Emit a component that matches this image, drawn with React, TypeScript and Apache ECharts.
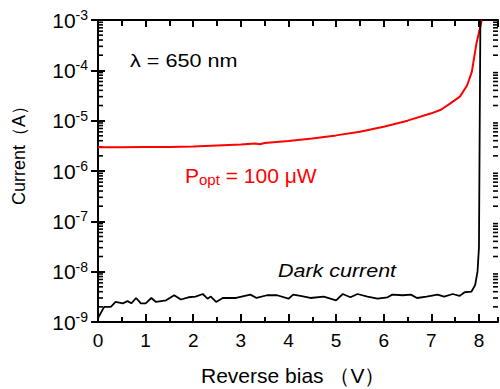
import React, { useEffect, useRef } from "react";
import * as echarts from "echarts";

const FONT = "'Liberation Sans', Arial, Helvetica, sans-serif";

// Photocurrent, P_opt = 100 µW : [reverse bias (V), current (A)]
const photoCurve: [number, number][] = [
  [0, 2.95e-6], [0.5, 2.95e-6], [1, 3.0e-6], [1.5, 3.0e-6], [2, 3.05e-6],
  [2.5, 3.2e-6], [3, 3.35e-6], [3.3, 3.5e-6], [3.4, 3.4e-6], [3.5, 3.6e-6],
  [4, 3.95e-6], [4.5, 4.4e-6], [5, 5.1e-6], [5.5, 6.0e-6], [6, 7.6e-6],
  [6.5, 1.0e-5], [7, 1.4e-5], [7.2, 1.65e-5], [7.4, 2.2e-5], [7.6, 3.0e-5],
  [7.75, 5.0e-5], [7.85, 9.3e-5], [7.95, 3.5e-4], [8.06, 1.0e-3],
];

// Dark current : [reverse bias (V), current (A)]
const darkCurve: [number, number][] = [
  [0, 1.2e-9], [0.13, 2.0e-9], [0.27, 2.0e-9], [0.37, 2.5e-9], [0.52, 2.35e-9],
  [0.62, 2.6e-9], [0.7, 2.35e-9], [0.8, 3.0e-9], [0.9, 2.35e-9], [1.0, 2.35e-9],
  [1.12, 3.0e-9], [1.22, 2.5e-9], [1.43, 2.7e-9], [1.6, 3.4e-9], [1.74, 2.8e-9],
  [1.9, 3.1e-9], [2.05, 3.2e-9], [2.2, 3.6e-9], [2.3, 2.9e-9], [2.37, 3.2e-9],
  [2.48, 2.5e-9], [2.62, 3.0e-9], [2.9, 3.0e-9], [3.2, 3.5e-9], [3.33, 3.0e-9],
  [3.55, 3.4e-9], [3.76, 3.4e-9], [4.0, 2.9e-9], [4.1, 3.5e-9], [4.25, 3.3e-9],
  [4.46, 3.0e-9], [4.74, 3.2e-9], [5.0, 2.7e-9], [5.14, 3.6e-9], [5.3, 3.1e-9],
  [5.45, 3.6e-9], [5.66, 3.2e-9], [5.87, 2.9e-9], [6.08, 3.1e-9], [6.18, 3.5e-9],
  [6.4, 3.4e-9], [6.57, 3.5e-9], [6.7, 3.0e-9], [6.9, 3.2e-9], [7.13, 3.5e-9],
  [7.27, 3.2e-9], [7.45, 3.6e-9], [7.59, 3.3e-9], [7.7, 3.9e-9], [7.84, 4.0e-9],
  [7.92, 5.4e-9], [7.97, 1.0e-8], [8.0, 3.0e-8], [8.03, 1.0e-3],
];

// axis ranges
const xMin = 0;
const xMax = 8.4;
const yMin = 1e-9;
const yMax = 1e-3;
const decadeExponents = [-9, -8, -7, -6, -5, -4];
const minorMantissas = [2, 3, 4, 5, 6, 7, 8, 9];

const yMinorTicks: number[] = [];
decadeExponents.forEach((e) =>
  minorMantissas.forEach((m) => yMinorTicks.push(m * Math.pow(10, e)))
);

const axisLineStyle = { color: "#000", width: 2 };

export default function App() {
  const ref = useRef<HTMLDivElement>(null);

  useEffect(() => {
    if (!ref.current) return;
    const chart = echarts.init(ref.current, null, { renderer: "svg" });

    const baseX = {
      type: "value",
      min: xMin,
      max: xMax,
      interval: 1,
      gridIndex: 0,
      splitLine: { show: false },
    };

    const option: any = {
      animation: false,
      backgroundColor: "#fff",
      grid: { left: 98, right: 2, top: 20, bottom: 67, containLabel: false },
      xAxis: [
        {
          ...baseX,
          position: "bottom",
          axisLine: { show: true, lineStyle: axisLineStyle },
          axisTick: { show: true, inside: true, length: 8, lineStyle: { color: "#000", width: 2 } },
          axisLabel: {
            show: true,
            color: "#000",
            fontSize: 19,
            fontFamily: FONT,
            margin: 9,
            showMaxLabel: false,
            formatter: (v: number) => (Math.abs(v - Math.round(v)) < 1e-6 ? String(Math.round(v)) : ""),
          },
        },
        {
          ...baseX,
          position: "top",
          axisLine: { show: true, lineStyle: axisLineStyle },
          axisTick: { show: true, inside: true, length: 7, lineStyle: { color: "#000", width: 2 } },
          axisLabel: { show: false },
        },
        {
          ...baseX,
          interval: 0.5,
          position: "bottom",
          axisLine: { show: false },
          axisTick: { show: true, inside: true, length: 5, lineStyle: { color: "#000", width: 2 } },
          axisLabel: { show: false },
        },
        {
          ...baseX,
          interval: 0.5,
          position: "top",
          axisLine: { show: false },
          axisTick: { show: true, inside: true, length: 6, lineStyle: { color: "#000", width: 2 } },
          axisLabel: { show: false },
        },
      ],
      yAxis: [
        {
          type: "log",
          logBase: 10,
          min: yMin,
          max: yMax,
          splitNumber: 6,
          position: "left",
          splitLine: { show: false },
          axisLine: { show: true, lineStyle: axisLineStyle },
          axisTick: { show: true, inside: true, length: 7, lineStyle: { color: "#000", width: 2 } },
          axisLabel: {
            show: true,
            margin: 10,
            formatter: (v: number) => `{b|10}{s|${Math.round(Math.log10(v))}}`,
            rich: {
              b: { fontSize: 21, lineHeight: 24, color: "#000", fontFamily: FONT },
              s: { fontSize: 14, lineHeight: 14, color: "#000", fontFamily: FONT, verticalAlign: "top" },
            },
          },
        },
        {
          type: "log",
          logBase: 10,
          min: yMin,
          max: yMax,
          splitNumber: 6,
          position: "right",
          splitLine: { show: false },
          axisLine: { show: true, lineStyle: axisLineStyle },
          axisTick: { show: true, inside: true, length: 7, lineStyle: { color: "#000", width: 2 } },
          axisLabel: { show: false },
        },
      ],
      series: [
        {
          type: "custom",
          xAxisIndex: 0,
          yAxisIndex: 0,
          silent: true,
          clip: false,
          data: yMinorTicks.map((v) => [xMin, v]),
          renderItem: (params: any, api: any) => {
            const p = api.coord([xMin, api.value(1)]);
            const cs = params.coordSys;
            return {
              type: "group",
              children: [
                {
                  type: "line",
                  shape: { x1: cs.x, y1: p[1], x2: cs.x + 5, y2: p[1] },
                  style: { stroke: "#000", lineWidth: 1.6 },
                },
                {
                  type: "line",
                  shape: { x1: cs.x + cs.width - 5, y1: p[1], x2: cs.x + cs.width, y2: p[1] },
                  style: { stroke: "#000", lineWidth: 1.6 },
                },
              ],
            };
          },
        },
        {
          name: "Popt = 100 µW",
          type: "line",
          xAxisIndex: 0,
          yAxisIndex: 0,
          data: photoCurve,
          showSymbol: false,
          symbol: "none",
          lineStyle: { color: "#ff0000", width: 2 },
          itemStyle: { color: "#ff0000" },
          z: 3,
        },
        {
          name: "Dark current",
          type: "line",
          xAxisIndex: 0,
          yAxisIndex: 0,
          data: darkCurve,
          showSymbol: false,
          symbol: "none",
          lineStyle: { color: "#000", width: 1.8 },
          itemStyle: { color: "#000" },
          z: 3,
        },
      ],
      graphic: [
        {
          type: "text",
          x: 130,
          y: 61,
          scaleX: 1.2,
          style: {
            text: "λ = 650 nm",
            fontSize: 18,
            fontFamily: FONT,
            fill: "#000",
            verticalAlign: "middle",
            align: "left",
          },
        },
        {
          type: "text",
          x: 185,
          y: 175,
          style: {
            text: "{a|P}{s|opt}{a| = 100 μW}",
            fontFamily: FONT,
            verticalAlign: "middle",
            align: "left",
            rich: {
              a: { fontSize: 21, lineHeight: 24, fill: "#ff0000", color: "#ff0000", fontFamily: FONT },
              s: { fontSize: 15, lineHeight: 10, fill: "#ff0000", color: "#ff0000", fontFamily: FONT, verticalAlign: "bottom" },
            },
          },
        },
        {
          type: "text",
          x: 278,
          y: 270,
          scaleX: 1.13,
          style: {
            text: "Dark current",
            fontSize: 19,
            fontStyle: "italic",
            fontFamily: FONT,
            fill: "#000",
            verticalAlign: "middle",
            align: "left",
          },
        },
        {
          type: "text",
          x: 19,
          y: 151,
          rotation: Math.PI / 2,
          style: {
            text: "Current（A）",
            fontSize: 18,
            fontFamily: FONT,
            fill: "#000",
            verticalAlign: "middle",
            align: "center",
          },
        },
        {
          type: "text",
          x: 201,
          y: 375,
          style: {
            text: "Reverse bias （V）",
            fontSize: 21,
            fontFamily: FONT,
            fill: "#000",
            verticalAlign: "middle",
            align: "left",
          },
        },
      ],
    };

    chart.setOption(option);
    return () => chart.dispose();
  }, []);

  return <div ref={ref} style={{ width: 500, height: 389, position: "absolute", left: 0, top: 0 }} />;
}
